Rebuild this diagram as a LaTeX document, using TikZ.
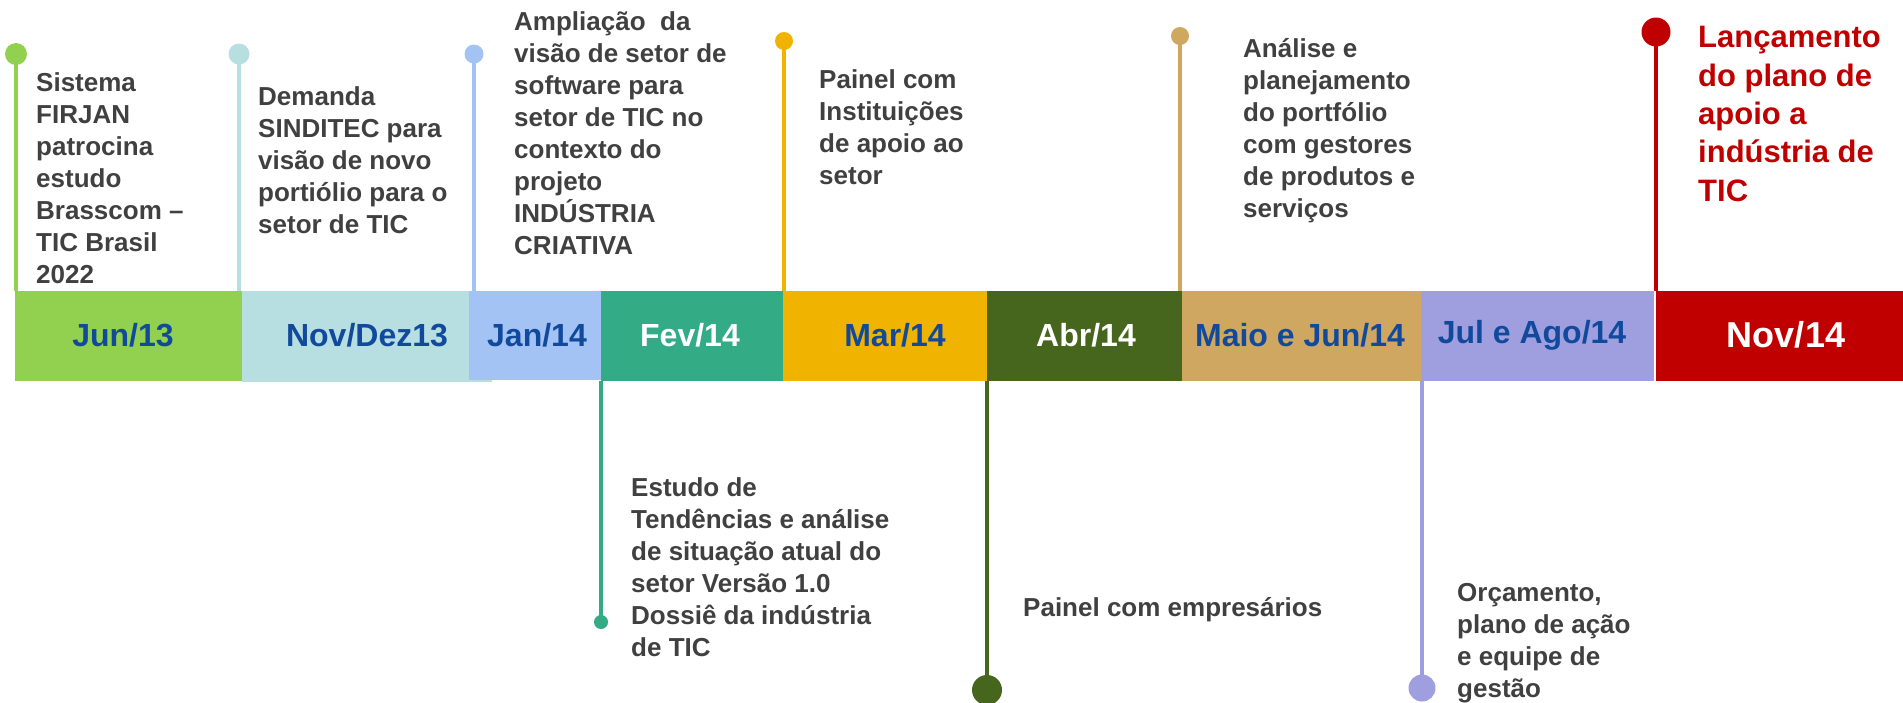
\documentclass[tikz,border=0pt]{standalone}
\usepackage{fontspec}
\setmainfont{Liberation Sans}
\definecolor{cJun}{HTML}{92D050}
\definecolor{cNovDez}{HTML}{B7DEE0}
\definecolor{cJan}{HTML}{A4C3F5}
\definecolor{cFev}{HTML}{33AB84}
\definecolor{cMar}{HTML}{F0B400}
\definecolor{cAbr}{HTML}{46651D}
\definecolor{cMaio}{HTML}{CFA761}
\definecolor{cJul}{HTML}{9F9FDF}
\definecolor{cNov}{HTML}{C00000}
\definecolor{dateblue}{HTML}{114A9C}
\definecolor{txtgray}{HTML}{404040}
\begin{document}
\begin{tikzpicture}[x=1pt,y=-1pt,
  box/.style={rectangle,draw=none,inner sep=0,anchor=north west,minimum height=90},
  datelbl/.style={anchor=base,inner sep=0,font=\fontsize{32}{36}\selectfont\bfseries,text=dateblue},
  dot/.style={circle,draw=none,inner sep=0},
  pin/.style={line width=4.5},
  body/.style={anchor=base west,inner sep=0,align=left,font=\fontsize{26}{32}\selectfont\bfseries,text=txtgray}]
\useasboundingbox (0,0) rectangle (1903,702);
% bar boxes
\node[box,fill=cJun,minimum width=227] (bJun) at (15,291) {};
\node[box,fill=cNovDez,minimum width=250,minimum height=91] (bNovDez) at (242,291) {};
\node[box,fill=cJan,minimum width=132,minimum height=89] (bJan) at (469,291) {};
\node[box,fill=cFev,minimum width=182] (bFev) at (601,291) {};
\node[box,fill=cMar,minimum width=204] (bMar) at (783,291) {};
\node[box,fill=cAbr,minimum width=195] (bAbr) at (987,291) {};
\node[box,fill=cMaio,minimum width=239] (bMaio) at (1182,291) {};
\node[box,fill=cJul,minimum width=233] (bJul) at (1421,291) {};
\node[box,fill=cNov,minimum width=247] (bNov) at (1656,291) {};
% date labels
\node[datelbl] (lJun) at (123,346) {Jun/13};
\node[datelbl] (lNovDez) at (367,346) {Nov/Dez13};
\node[datelbl] (lJan) at (537,346) {Jan/14};
\node[datelbl,text=white] (lFev) at (690,346) {Fev/14};
\node[datelbl] (lMar) at (895,346) {Mar/14};
\node[datelbl,text=white] (lAbr) at (1086,346) {Abr/14};
\node[datelbl] (lMaio) at (1300,346) {Maio e Jun/14};
\node[datelbl] (lJul) at (1532,343) {Jul e Ago/14};
\node[datelbl,text=white,font=\fontsize{36}{40}\selectfont\bfseries] (lNov) at (1786,347) {Nov/14};
% dots
\node[dot,fill=cJun,minimum size=22] (dJun) at (16,54) {};
\node[dot,fill=cNovDez,minimum size=21] (dNovDez) at (239,54) {};
\node[dot,fill=cJan,minimum size=19] (dJan) at (474,54) {};
\node[dot,fill=cMar,minimum size=18] (dMar) at (784,41) {};
\node[dot,fill=cMaio,minimum size=18] (dMaio) at (1180,36) {};
\node[dot,fill=cNov,minimum size=29] (dNov) at (1656,32) {};
\node[dot,fill=cFev,minimum size=14] (dFev) at (601,622) {};
\node[dot,fill=cAbr,minimum size=30] (dAbr) at (987,690) {};
\node[dot,fill=cJul,minimum size=27] (dJul) at (1422,688) {};
% pin lines
\draw[pin,cJun] (dJun.center) -- (dJun.center |- bJun.north);
\draw[pin,cNovDez] (dNovDez.center) -- (dNovDez.center |- bNovDez.north);
\draw[pin,cJan] (dJan.center) -- (dJan.center |- bJan.north);
\draw[pin,cMar] (dMar.center) -- (dMar.center |- bMar.north);
\draw[pin,cMaio] (dMaio.center) -- (dMaio.center |- bMaio.north);
\draw[pin,cNov] (dNov.center) -- (dNov.center |- bNov.north);
\draw[pin,cFev] (dFev.center |- bFev.south) -- (dFev.center);
\draw[pin,cAbr] (dAbr.center |- bAbr.south) -- (dAbr.center);
\draw[pin,cJul] (dJul.center |- bJul.south) -- (dJul.center);
% texts (anchor = baseline of the last line)
\node[body] (tJun) at (36,283) {Sistema\\FIRJAN\\patrocina\\estudo\\Brasscom --\\TIC Brasil\\2022};
\node[body] (tNovDez) at (258,233) {Demanda\\SINDITEC para\\visão de novo\\portiólio para o\\setor de TIC};
\node[body] (tJan) at (514,254) {Ampliação\ \ da\\visão de setor de\\software para\\setor de TIC no\\contexto do\\projeto\\INDÚSTRIA\\CRIATIVA};
\node[body] (tMar) at (819,184) {Painel com\\Instituições\\de apoio ao\\setor};
\node[body] (tMaio) at (1243,217) {Análise e\\planejamento\\do portfólio\\com gestores\\de produtos e\\serviços};
\node[body,text=cNov,font=\fontsize{31}{38.3}\selectfont\bfseries] (tNov) at (1698,201) {Lançamento\\do plano de\\apoio a\\indústria de\\TIC};
\node[body] (tFev) at (631,656) {Estudo de\\Tendências e análise\\de situação atual do\\setor Versão 1.0\\Dossiê da indústria\\de TIC};
\node[body] (tAbr) at (1023,616) {Painel com empresários};
\node[body] (tJul) at (1457,697) {Orçamento,\\plano de ação\\e equipe de\\gestão};
\end{tikzpicture}
\end{document}
